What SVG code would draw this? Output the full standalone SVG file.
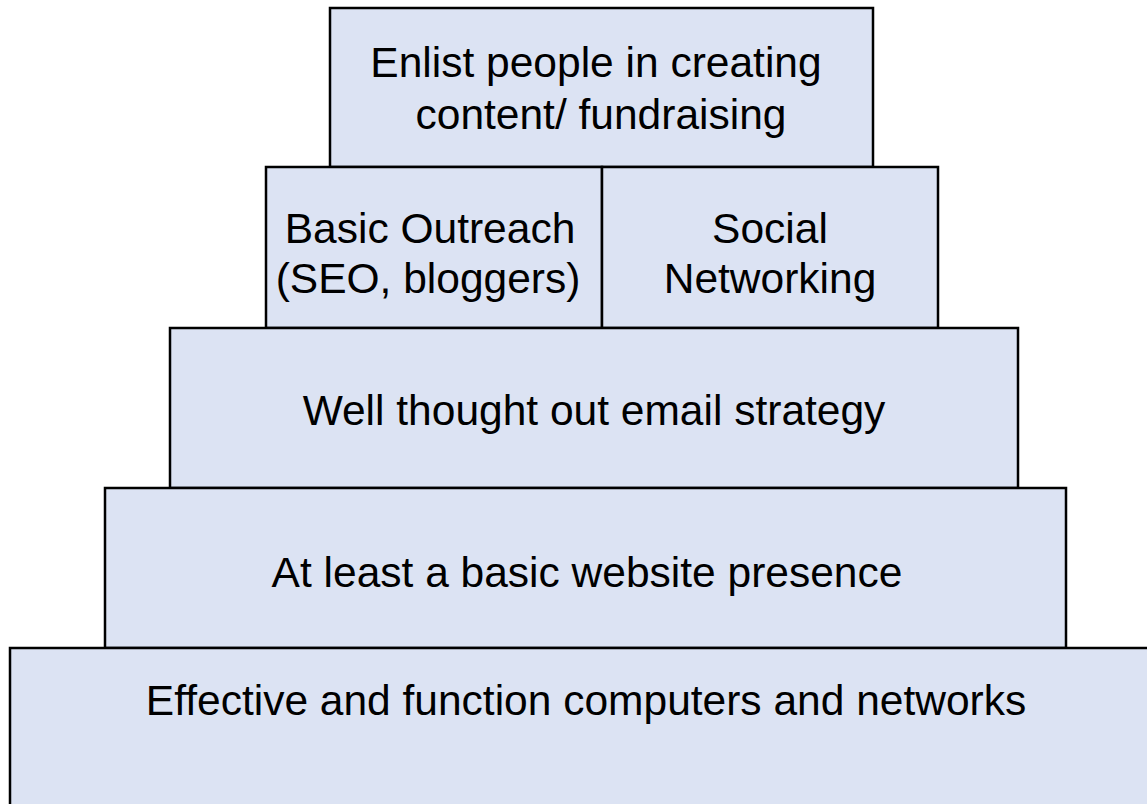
<svg xmlns="http://www.w3.org/2000/svg" width="1147" height="804" viewBox="0 0 1147 804">
<style>
.box{fill:#DCE3F3;stroke:#000;stroke-width:2.5}
.t{font-family:"Liberation Sans",Arial,sans-serif;font-size:42.5px;fill:#000;text-anchor:middle}
</style>
<rect width="1147" height="804" fill="#fff"/>
<g id="top">
<rect class="box" x="330" y="8" width="543" height="159"/>
<text class="t" x="596" y="77">Enlist people in creating</text>
<text class="t" x="601" y="129">content/ fundraising</text>
</g>
<g id="outreach">
<rect class="box" x="266" y="167" width="336" height="161"/>
<text class="t" x="430" y="243">Basic Outreach</text>
<text class="t" x="428" y="293">(SEO, bloggers)</text>
</g>
<g id="social">
<rect class="box" x="602" y="167" width="336" height="161"/>
<text class="t" x="770" y="243">Social</text>
<text class="t" x="770" y="293">Networking</text>
</g>
<g id="email">
<rect class="box" x="170" y="328" width="848" height="160"/>
<text class="t" x="594" y="425">Well thought out email strategy</text>
</g>
<g id="website">
<rect class="box" x="105" y="488" width="961" height="160"/>
<text class="t" x="587" y="587">At least a basic website presence</text>
</g>
<g id="computers">
<rect class="box" x="10" y="648" width="1200" height="200"/>
<text class="t" x="586" y="715">Effective and function computers and networks</text>
</g>
<g id="connectors"></g>
</svg>
